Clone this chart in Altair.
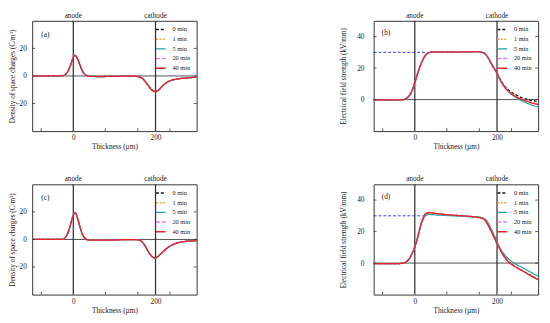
import altair as alt
import pandas as pd

FONT = "Liberation Serif"
TXT = "#222222"
W, H = 170, 114

SERIES = ["0 min", "1 min", "5 min", "20 min", "40 min"]
COLORS = ["#111111", "#f5a033", "#22a0a0", "#e27be2", "#e3262b"]
DASHES = [[3, 2], [2, 1.5], [1, 0], [4, 2], [1, 0]]

X_TICKS = [-78, 78, 157, 235]
ELECTRODES = [0, 200]
ELECTRODE_NAMES = ["anode", "cathode"]

# ---------- panel (a): space charge ----------
XA = [-100, -60, -40, -30, -25, -20, -15, -10, -5, 0, 3, 5, 10, 15, 20, 25, 30, 35, 40, 60,
      100, 130, 150, 160, 165, 170, 175, 180, 185, 190, 195, 200, 205, 210, 215, 220, 230,
      240, 250, 260, 270, 280, 290, 300]
A0 = [0, 0, 0, 0.1, 0.3, 0.9, 2.5, 5.4, 9.3, 13.4, 14.9, 14.8, 12.6, 8.8, 5.0, 2.2, 0.7, 0.0,
      -0.3, -0.4, -0.3, -0.1, -0.2, -0.6, -1.2, -2.3, -4.0, -6.0, -8.0, -9.8, -10.9, -11.2,
      -10.7, -9.4, -7.8, -6.3, -4.2, -3.0, -2.3, -1.9, -1.6, -1.3, -1.1, -1.0]
A1 = [0, 0, 0, 0.1, 0.3, 0.9, 2.5, 5.4, 9.3, 13.4, 14.9, 14.8, 12.6, 8.8, 5.0, 2.2, 0.7, 0.0,
      -0.3, -0.4, -0.3, -0.1, -0.2, -0.7, -1.4, -2.6, -4.4, -6.5, -8.6, -10.4, -11.5, -11.8,
      -11.2, -9.8, -8.1, -6.5, -4.3, -3.1, -2.4, -1.9, -1.6, -1.3, -1.1, -1.0]
A5 = [0, 0, 0, 0.1, 0.3, 0.9, 2.5, 5.4, 9.3, 13.4, 14.9, 14.8, 12.6, 8.8, 5.0, 2.2, 0.7, 0.0,
      -0.3, -0.4, -0.3, -0.1, -0.2, -0.6, -1.2, -2.3, -4.0, -6.0, -8.1, -9.9, -11.0, -11.3,
      -10.8, -9.5, -7.9, -6.4, -4.3, -3.1, -2.4, -1.9, -1.6, -1.3, -1.1, -1.0]
A20 = [0, 0, 0, 0.1, 0.3, 0.9, 2.5, 5.4, 9.3, 13.4, 14.9, 14.8, 12.6, 8.8, 5.0, 2.2, 0.7, 0.0,
       -0.3, -0.4, -0.3, -0.1, -0.2, -0.6, -1.2, -2.3, -4.0, -6.0, -8.0, -9.8, -10.9, -11.2,
       -10.7, -9.4, -7.8, -6.3, -4.2, -3.0, -2.3, -1.9, -1.6, -1.3, -1.1, -1.0]
A40 = [0, 0, 0, 0.1, 0.3, 0.9, 2.5, 5.4, 9.3, 13.4, 14.9, 14.8, 12.6, 8.8, 5.0, 2.2, 0.7, 0.0,
       -0.3, -0.4, -0.3, -0.1, -0.2, -0.6, -1.2, -2.3, -4.0, -6.0, -8.0, -9.8, -10.9, -11.2,
       -10.7, -9.4, -7.8, -6.3, -4.2, -3.0, -2.3, -1.9, -1.6, -1.3, -1.1, -1.0]

# ---------- panel (c): space charge ----------
XC = XA
C0 = [0, 0, 0, 0.1, 0.3, 1.2, 3.5, 7.5, 12.8, 17.6, 19.5, 19.3, 15.8, 10.5, 5.5, 2.2, 0.5, -0.3,
      -0.5, -0.5, -0.4, -0.1, -0.1, -0.5, -1.2, -2.6, -4.8, -7.5, -10.0, -12.0, -13.2, -13.4,
      -12.6, -11.2, -9.8, -8.4, -5.9, -4.0, -2.8, -2.0, -1.5, -1.2, -1.0, -0.9]
C1 = [0, 0, 0, 0.1, 0.3, 1.2, 3.5, 7.5, 12.8, 17.6, 19.5, 19.3, 15.8, 10.5, 5.5, 2.2, 0.5, -0.3,
      -0.5, -0.5, -0.4, -0.1, -0.1, -0.5, -1.2, -2.6, -4.8, -7.5, -10.0, -12.0, -13.3, -13.6,
      -12.8, -11.3, -9.9, -8.5, -6.0, -4.1, -2.8, -2.0, -1.5, -1.2, -1.0, -0.9]
C5 = [0, 0, 0, 0.1, 0.3, 1.2, 3.5, 7.5, 12.8, 17.6, 19.5, 19.3, 15.8, 10.5, 5.5, 2.2, 0.5, -0.3,
      -0.5, -0.5, -0.4, -0.1, -0.1, -0.5, -1.2, -2.6, -4.8, -7.5, -10.0, -12.0, -13.2, -13.4,
      -12.6, -11.2, -9.8, -8.4, -5.9, -4.0, -2.8, -2.0, -1.5, -1.2, -1.0, -0.9]
C20 = [0, 0, 0, 0.1, 0.3, 1.2, 3.5, 7.5, 12.8, 17.6, 19.5, 19.3, 15.8, 10.5, 5.5, 2.2, 0.5, -0.3,
       -0.5, -0.5, -0.4, -0.1, -0.1, -0.5, -1.2, -2.6, -4.8, -7.5, -10.0, -12.0, -13.2, -13.4,
       -12.6, -11.2, -9.8, -8.4, -5.9, -4.0, -2.8, -2.0, -1.5, -1.2, -1.0, -0.9]
C40 = [0, 0, 0, 0.1, 0.3, 1.2, 3.5, 7.5, 12.8, 17.6, 19.5, 19.3, 15.8, 10.5, 5.5, 2.2, 0.5, -0.3,
       -0.5, -0.5, -0.4, -0.1, -0.1, -0.5, -1.2, -2.6, -4.8, -7.5, -10.0, -12.0, -13.2, -13.4,
       -12.6, -11.2, -9.8, -8.4, -5.9, -4.0, -2.8, -2.0, -1.5, -1.2, -1.0, -0.9]

# ---------- panel (b): electric field ----------
XB = [-100, -60, -40, -30, -25, -20, -15, -10, -5, 0, 5, 10, 15, 20, 25, 30, 35, 40, 60, 100,
      130, 150, 160, 165, 170, 175, 180, 185, 190, 195, 200, 205, 210, 215, 220, 230, 240, 250,
      260, 270, 280, 290, 300]
B0 = [-0.2, -0.2, -0.2, -0.1, 0.2, 0.8, 2.0, 3.8, 6.8, 10.7, 15.0, 19.0, 22.6, 25.5, 27.8, 29.2,
      29.9, 30.1, 30.2, 30.2, 30.3, 30.4, 30.2, 29.9, 29.3, 27.8, 25.8, 23.4, 21.1, 19.0, 16.8,
      14.2, 11.8, 9.8, 8.2, 5.7, 3.9, 2.5, 1.3, 0.4, -0.3, -0.8, -1.3]
B1 = [-0.2, -0.2, -0.2, -0.1, 0.2, 0.8, 2.0, 3.8, 6.8, 10.7, 15.0, 19.0, 22.6, 25.5, 27.8, 29.2,
      29.9, 30.1, 30.2, 30.2, 30.3, 30.4, 30.2, 29.9, 29.3, 27.8, 25.8, 23.4, 21.1, 19.0, 16.7,
      14.0, 11.5, 9.4, 7.7, 5.0, 3.1, 1.6, 0.4, -0.6, -1.4, -2.1, -2.7]
B5 = [-0.2, -0.2, -0.2, -0.1, 0.2, 0.8, 2.0, 3.8, 6.8, 10.7, 15.0, 19.0, 22.6, 25.5, 27.8, 29.2,
      29.9, 30.1, 30.2, 30.2, 30.3, 30.4, 30.2, 29.9, 29.3, 27.8, 25.8, 23.3, 21.0, 18.8, 16.5,
      13.7, 11.2, 9.1, 7.3, 4.5, 2.4, 0.8, -0.7, -1.9, -3.0, -3.9, -4.6]
B20 = [-0.2, -0.2, -0.2, -0.1, 0.2, 0.8, 2.0, 3.8, 6.8, 10.7, 15.0, 19.0, 22.6, 25.5, 27.8, 29.2,
       29.9, 30.1, 30.2, 30.2, 30.3, 30.4, 30.2, 29.9, 29.3, 27.8, 25.8, 23.4, 21.1, 19.0, 16.7,
       13.9, 11.4, 9.3, 7.6, 4.9, 3.0, 1.4, 0.2, -0.8, -1.6, -2.3, -2.9]
B40 = [-0.2, -0.2, -0.2, -0.1, 0.2, 0.8, 2.0, 3.8, 6.8, 10.7, 15.0, 19.0, 22.6, 25.5, 27.8, 29.2,
       29.9, 30.1, 30.2, 30.2, 30.3, 30.4, 30.2, 29.9, 29.3, 27.8, 25.8, 23.4, 21.1, 19.0, 16.7,
       13.9, 11.4, 9.3, 7.5, 4.8, 2.9, 1.3, 0.1, -0.9, -1.8, -2.5, -3.1]

# ---------- panel (d): electric field ----------
XD = [-100, -60, -40, -30, -25, -20, -15, -10, -5, 0, 5, 10, 15, 20, 25, 30, 35, 40, 50, 70,
      100, 130, 150, 160, 165, 170, 175, 180, 185, 190, 195, 200, 205, 210, 215, 220, 225, 230,
      240, 250, 260, 270, 280, 290, 300]
D0 = [-0.4, -0.4, -0.3, -0.2, 0.2, 0.9, 2.2, 4.2, 6.9, 10.2, 14.5, 19.5, 24.5, 28.3, 30.8, 31.9,
      32.1, 31.9, 31.5, 30.9, 30.3, 29.7, 29.2, 28.8, 28.3, 27.4, 25.7, 23.3, 20.7, 18.0, 15.2,
      12.3, 9.8, 7.5, 5.2, 3.4, 1.8, 0.4, -1.4, -3.0, -4.5, -6.0, -7.5, -8.9, -10.3]
D1 = [-0.4, -0.4, -0.3, -0.2, 0.2, 0.9, 2.2, 4.2, 6.9, 10.2, 14.6, 19.7, 24.8, 28.6, 31.1, 32.2,
      32.3, 32.1, 31.6, 30.9, 30.2, 29.6, 29.0, 28.6, 28.0, 27.1, 25.4, 23.0, 20.4, 17.7, 14.9,
      12.1, 9.6, 7.3, 5.0, 3.2, 1.6, 0.2, -1.5, -3.1, -4.6, -6.1, -7.6, -9.0, -10.2]
D5 = [-0.4, -0.4, -0.3, -0.2, 0.2, 0.9, 2.2, 4.2, 6.9, 10.2, 14.3, 19.2, 24.0, 27.6, 29.8, 30.7,
      30.9, 30.8, 30.6, 30.3, 29.9, 29.5, 29.2, 29.0, 28.7, 28.1, 26.8, 24.6, 22.0, 19.3, 16.5,
      13.6, 10.9, 8.5, 6.5, 4.8, 3.4, 2.2, 0.3, -1.3, -2.6, -4.0, -5.5, -6.9, -8.2]
D20 = [-0.4, -0.4, -0.3, -0.2, 0.2, 0.9, 2.2, 4.2, 6.9, 10.2, 14.5, 19.5, 24.5, 28.3, 30.8, 31.9,
       32.1, 31.9, 31.5, 30.9, 30.3, 29.7, 29.2, 28.8, 28.3, 27.4, 25.7, 23.3, 20.7, 18.0, 15.2,
       12.3, 9.8, 7.5, 5.1, 3.3, 1.6, 0.2, -1.6, -3.2, -4.7, -6.2, -7.7, -9.1, -10.4]
D40 = [-0.4, -0.4, -0.3, -0.2, 0.2, 0.9, 2.2, 4.2, 6.9, 10.2, 14.5, 19.5, 24.5, 28.3, 30.8, 31.9,
       32.1, 31.9, 31.5, 30.9, 30.3, 29.7, 29.2, 28.8, 28.3, 27.4, 25.7, 23.3, 20.7, 18.0, 15.2,
       12.3, 9.8, 7.5, 5.1, 3.3, 1.6, 0.2, -1.6, -3.2, -4.7, -6.2, -7.7, -9.2, -10.6]

APPLIED_X = [-100, 30]
APPLIED_E = [30, 30]


def long_df(x, vals):
    rows = []
    for name, v in zip(SERIES, vals):
        assert len(v) == len(x), (name, len(v), len(x))
        for xi, yi in zip(x, v):
            rows.append({"x": xi, "y": yi, "series": name})
    return pd.DataFrame(rows)


def panel(x, vals, ytitle, ydom, yticks, tag, tagx, tagy, lblpad, titlex, applied=False):
    df = long_df(x, vals)
    xs = alt.Scale(domain=[-100, 300], nice=False, zero=False)
    ys = alt.Scale(domain=ydom, nice=False, zero=False)
    xaxis = alt.Axis(values=ELECTRODES, format="d", title="Thickness (µm)", ticks=False,
                     tickSize=0, domain=False, grid=False, labelPadding=3, titlePadding=2,
                     labelFont=FONT, titleFont=FONT, labelFontSize=7.5, titleFontSize=7.5,
                     titleFontWeight="normal", labelColor=TXT, titleColor=TXT)
    yaxis = alt.Axis(values=yticks, format="d", title=ytitle, ticks=False, tickSize=0,
                     domain=False, grid=False, labelPadding=lblpad, titleX=titlex,
                     labelFont=FONT, titleFont=FONT, labelFontSize=7.5, titleFontSize=7.5,
                     titleFontWeight="normal", labelColor=TXT, titleColor=TXT)
    leg = alt.Legend(title=None, orient="none", legendX=127, legendY=3, symbolType="stroke",
                     symbolSize=100, symbolStrokeWidth=1.5, labelFont=FONT, labelFontSize=6.5,
                     labelColor=TXT, labelOffset=6, rowPadding=0, padding=0)

    base_x = alt.X("x:Q", scale=xs, axis=xaxis)
    base_y = alt.Y("y:Q", scale=ys, axis=yaxis)

    lines = alt.Chart(df).mark_line(strokeWidth=1.3, interpolate="monotone").encode(
        x=base_x, y=base_y,
        color=alt.Color("series:N", scale=alt.Scale(domain=SERIES, range=COLORS), legend=leg),
        strokeDash=alt.StrokeDash("series:N", scale=alt.Scale(domain=SERIES, range=DASHES),
                                  legend=leg),
    )
    vlines = alt.Chart(pd.DataFrame({"x": ELECTRODES})).mark_rule(
        color="#333333", strokeWidth=1.3).encode(x=alt.X("x:Q", scale=xs))
    hline = alt.Chart(pd.DataFrame({"y": [0]})).mark_rule(
        color="#222222", strokeWidth=0.8).encode(y=alt.Y("y:Q", scale=ys))
    xt = alt.Chart(pd.DataFrame({"x": X_TICKS})).mark_rule(
        color="#333333", strokeWidth=0.8).encode(x=alt.X("x:Q", scale=xs),
                                                 y=alt.value(H), y2=alt.value(H - 3))
    ytl = alt.Chart(pd.DataFrame({"y": yticks})).mark_rule(
        color="#333333", strokeWidth=0.8).encode(y=alt.Y("y:Q", scale=ys),
                                                 x=alt.value(0), x2=alt.value(3))
    ytr = alt.Chart(pd.DataFrame({"y": yticks})).mark_rule(
        color="#333333", strokeWidth=0.8).encode(y=alt.Y("y:Q", scale=ys),
                                                 x=alt.value(W - 3), x2=alt.value(W))
    el = alt.Chart(pd.DataFrame({"x": ELECTRODES, "t": ELECTRODE_NAMES})).mark_text(
        font=FONT, fontSize=7.5, color=TXT, baseline="middle").encode(
        x=alt.X("x:Q", scale=xs), y=alt.value(-5), text="t:N")
    tg = alt.Chart(pd.DataFrame({"x": [tagx], "y": [tagy], "t": [tag]})).mark_text(
        font=FONT, fontSize=7.5, color=TXT, baseline="middle").encode(
        x=alt.X("x:Q", scale=xs), y=alt.Y("y:Q", scale=ys), text="t:N")

    layers = [vlines, hline]
    if applied:
        ap = alt.Chart(pd.DataFrame({"x": APPLIED_X, "y": APPLIED_E})).mark_line(
            color="#2a3ad8", strokeWidth=1, strokeDash=[3, 2]).encode(
            x=alt.X("x:Q", scale=xs), y=alt.Y("y:Q", scale=ys))
        layers.append(ap)
    layers += [lines, xt, ytl, ytr, el, tg]
    return alt.layer(*layers).properties(width=W, height=H)


Q_TITLE = "Density of space charges (C/m³)"
E_TITLE = "Electrical field strength (kV/mm)"

pa = panel(XA, [A0, A1, A5, A20, A40], Q_TITLE, [-40, 40], [-20, 0, 20], "(a)", -68, 30, 6, -16)
pb = panel(XB, [B0, B1, B5, B20, B40], E_TITLE, [-20, 50], [0, 20, 40], "(b)", -70, 42, 10, -27,
           applied=True)
pc = panel(XC, [C0, C1, C5, C20, C40], Q_TITLE, [-40, 40], [-20, 0, 20], "(c)", -68, 30, 6, -16)
pd_ = panel(XD, [D0, D1, D5, D20, D40], E_TITLE, [-20, 50], [0, 20, 40], "(d)", -70, 42, 10, -27,
            applied=True)

chart = alt.concat(pa, pb, pc, pd_, columns=2, align="each",
                   spacing={"row": 24, "column": 143}).resolve_scale(
    color="independent", strokeDash="independent"
).properties(padding={"top": -2, "left": 0, "right": 0, "bottom": 0}).configure_view(
    stroke="#333333", strokeWidth=1)

chart.save("out.html", embed_options={"renderer": "svg", "actions": False})
